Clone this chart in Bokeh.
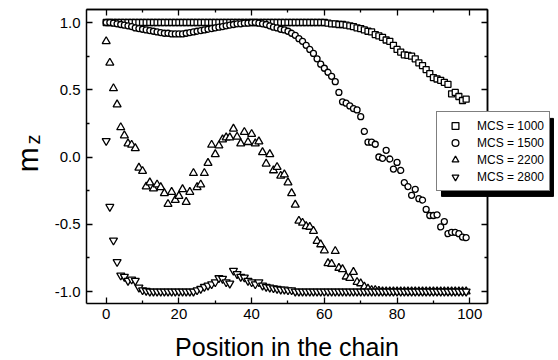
from bokeh.plotting import figure
from bokeh.models import (Range1d, LinearAxis, FixedTicker, Legend, LegendItem,
                          Label, BoxAnnotation)
from bokeh.embed import file_html
from bokeh.resources import INLINE
from math import pi

positions = list(range(100))

mcs1000 = [
    1.0, 1.0, 1.0, 1.0, 1.0, 1.0, 1.0, 1.0, 1.0, 1.0,
    1.0, 1.0, 1.0, 1.0, 1.0, 1.0, 1.0, 1.0, 1.0, 1.0,
    1.0, 1.0, 1.0, 1.0, 1.0, 1.0, 1.0, 1.0, 1.0, 1.0,
    1.0, 1.0, 1.0, 1.0, 1.0, 1.0, 1.0, 1.0, 1.0, 1.0,
    1.0, 1.0, 1.0, 1.0, 1.0, 1.0, 1.0, 1.0, 1.0, 1.0,
    1.0, 1.0, 1.0, 1.0, 1.0, 1.0, 1.0, 1.0, 1.0, 1.0,
    1.0, 0.995, 0.99, 0.99, 0.985, 0.985, 0.98, 0.975, 0.97, 0.96,
    0.955, 0.945, 0.935, 0.93, 0.91, 0.90, 0.89, 0.87, 0.86, 0.83,
    0.80, 0.78, 0.76, 0.755, 0.75, 0.73, 0.70, 0.68, 0.65, 0.62,
    0.59, 0.58, 0.57, 0.555, 0.54, 0.47, 0.48, 0.45, 0.42, 0.43,
]

mcs1500 = [
    1.0, 1.0, 0.995, 0.99, 0.985, 0.98, 0.975, 0.97, 0.96, 0.955,
    0.95, 0.945, 0.94, 0.935, 0.93, 0.925, 0.92, 0.92, 0.915, 0.915,
    0.915, 0.915, 0.92, 0.925, 0.93, 0.935, 0.94, 0.945, 0.95, 0.955,
    0.96, 0.965, 0.97, 0.975, 0.98, 0.985, 0.99, 0.99, 0.995, 0.995,
    1.0, 1.0, 0.995, 0.99, 0.985, 0.975, 0.965, 0.96, 0.95, 0.945,
    0.935, 0.92, 0.905, 0.88, 0.86, 0.83, 0.80, 0.77, 0.73, 0.69,
    0.66, 0.63, 0.60, 0.56, 0.48, 0.41, 0.40, 0.38, 0.36, 0.35,
    0.30, 0.19, 0.11, 0.11, 0.095, 0.0, -0.01, 0.05, -0.015, -0.09,
    -0.04, -0.10, -0.19, -0.22, -0.285, -0.24, -0.31, -0.32, -0.39, -0.435,
    -0.435, -0.43, -0.52, -0.48, -0.57, -0.56, -0.56, -0.57, -0.595, -0.60,
]

mcs2200 = [
    0.86, 0.70, 0.51, 0.39, 0.22, 0.16, 0.10, 0.09, 0.065, -0.08,
    -0.105, -0.22, -0.19, -0.235, -0.205, -0.225, -0.27, -0.35, -0.26, -0.32,
    -0.29, -0.24, -0.335, -0.26, -0.12, -0.225, -0.205, -0.12, -0.045, 0.09,
    0.02, 0.085, 0.13, 0.145, 0.145, 0.21, 0.15, 0.10, 0.185, 0.11,
    0.17, 0.10, 0.115, 0.035, -0.05, 0.02, -0.10, -0.075, -0.14, -0.13,
    -0.19, -0.27, -0.355, -0.475, -0.49, -0.515, -0.52, -0.55, -0.625, -0.65,
    -0.695, -0.79, -0.795, -0.70, -0.825, -0.835, -0.89, -0.90, -0.855, -0.93,
    -0.94, -0.965, -0.98, -0.99, -0.99, -0.995, -1.0, -1.0, -1.0, -1.0,
    -1.0, -1.0, -1.0, -1.0, -1.0, -1.0, -1.0, -1.0, -1.0, -1.0,
    -1.0, -1.0, -1.0, -1.0, -1.0, -1.0, -1.0, -1.0, -1.0, -1.0,
]

mcs2800 = [
    0.12, -0.37, -0.62, -0.78, -0.88, -0.89, -0.92, -0.91, -0.92, -0.97,
    -0.99, -0.995, -1.0, -1.0, -1.0, -1.0, -1.0, -1.0, -1.0, -1.0,
    -1.0, -1.0, -1.0, -1.0, -1.0, -0.99, -0.98, -0.965, -0.955, -0.945,
    -0.93, -0.90, -0.905, -0.93, -0.94, -0.845, -0.87, -0.89, -0.895, -0.92,
    -0.93, -0.945, -0.93, -0.955, -0.965, -0.97, -0.975, -0.98, -0.985, -0.985,
    -0.99, -0.99, -1.0, -1.0, -1.0, -1.0, -1.0, -1.0, -1.0, -1.0,
    -1.0, -1.0, -1.0, -1.0, -1.0, -1.0, -1.0, -1.0, -1.0, -1.0,
    -1.0, -1.0, -1.0, -1.0, -1.0, -1.0, -1.0, -1.0, -1.0, -1.0,
    -1.0, -1.0, -1.0, -1.0, -1.0, -1.0, -1.0, -1.0, -1.0, -1.0,
    -1.0, -1.0, -1.0, -1.0, -1.0, -1.0, -1.0, -1.0, -1.0, -1.0,
]

series_labels = ["MCS = 1000", "MCS = 1500", "MCS = 2200", "MCS = 2800"]
x_ticks = [0, 20, 40, 60, 80, 100]
x_minor = [10, 30, 50, 70, 90]
y_ticks = [-1.0, -0.5, 0.0, 0.5, 1.0]
y_minor = [-0.75, -0.25, 0.25, 0.75]
y_tick_labels = {-1.0: "-1.0", -0.5: "-0.5", 0.0: "0.0", 0.5: "0.5", 1.0: "1.0"}
x_title = "Position in the chain"

# visible axes box (data units)
X0, X1 = -5.42, 104.87
Y0, Y1 = -1.089, 1.097

FONT = "Liberation Sans"

p = figure(width=558, height=360, output_backend="svg", toolbar_location=None,
           x_range=Range1d(-29.07, 124.40), y_range=Range1d(-1.513, 1.1636),
           min_border_left=0, min_border_right=0, min_border_top=0,
           min_border_bottom=0, x_axis_location=None, y_axis_location=None)
p.grid.visible = False
p.background_fill_color = "white"
p.border_fill_color = "white"
p.outline_line_color = None


def base_axis(ax, bounds):
    ax.bounds = bounds
    ax.axis_line_color = "black"
    ax.axis_line_width = 1.5
    ax.major_tick_line_color = "black"
    ax.major_tick_line_width = 1.3
    ax.minor_tick_line_color = "black"
    ax.minor_tick_line_width = 1.3
    ax.major_tick_in = 6
    ax.major_tick_out = 0
    ax.minor_tick_in = 3
    ax.minor_tick_out = 0


def label_axis(ax):
    ax.major_label_text_font = FONT
    ax.major_label_text_font_size = "15px"
    ax.major_label_text_color = "black"


# bottom axis, fixed at the box edge
xb = LinearAxis(ticker=FixedTicker(ticks=x_ticks, minor_ticks=x_minor),
                fixed_location=Y0)
base_axis(xb, (X0, X1))
label_axis(xb)
xb.major_label_standoff = 6
p.add_layout(xb, "below")

# left axis, fixed at the box edge
yl = LinearAxis(ticker=FixedTicker(ticks=y_ticks, minor_ticks=y_minor),
                fixed_location=X0)
base_axis(yl, (Y0, Y1))
label_axis(yl)
yl.major_label_standoff = 6
yl.major_label_overrides = y_tick_labels
p.add_layout(yl, "left")

# mirrored top / right axes: ticks only (long and short marks)
for ticks, length in ((x_ticks, 6), (x_minor, 3)):
    ax = LinearAxis(ticker=FixedTicker(ticks=[], minor_ticks=ticks), fixed_location=Y1)
    base_axis(ax, (X0, X1))
    ax.minor_tick_in = length
    p.add_layout(ax, "above")
for ticks, length in ((y_ticks, 6), (y_minor, 3)):
    ax = LinearAxis(ticker=FixedTicker(ticks=[], minor_ticks=ticks), fixed_location=X1)
    base_axis(ax, (Y0, Y1))
    ax.minor_tick_in = length
    p.add_layout(ax, "right")

# x-axis title
p.add_layout(Label(x=(X0 + X1) / 2, y=-1.409, text=x_title, text_align="center",
                   text_baseline="alphabetic", text_font=FONT, text_font_size="25px",
                   text_color="black"))

# y-axis title "m" with subscript "z"
p.add_layout(Label(x=-21.65, y=-0.02, text="m", angle=pi / 2, text_align="center",
                   text_baseline="middle", text_font=FONT, text_font_size="30px",
                   text_color="black"))
p.add_layout(Label(x=-20.0, y=0.13, text="z", angle=pi / 2, text_align="center",
                   text_baseline="middle", text_font=FONT, text_font_size="20px",
                   text_color="black"))

common = dict(fill_color="white", line_color="black", line_width=1.3)
r1 = p.scatter(positions, mcs1000, marker="square", size=6, **common)
r2 = p.scatter(positions, mcs1500, marker="circle", size=6, **common)
r3 = p.scatter(positions, mcs2200, marker="triangle", size=8, **common)
r4 = p.scatter(positions, mcs2800, marker="inverted_triangle", size=8, **common)

# legend drop shadow
p.add_layout(BoxAnnotation(left=92.22, right=123.02, top=0.287, bottom=-0.293,
                           fill_color="black", fill_alpha=1.0, line_color="black",
                           line_alpha=1.0, level="annotation"))

legend = Legend(items=[LegendItem(label=series_labels[0], renderers=[r1]),
                       LegendItem(label=series_labels[1], renderers=[r2]),
                       LegendItem(label=series_labels[2], renderers=[r3]),
                       LegendItem(label=series_labels[3], renderers=[r4])],
                location=(436, 169), padding=5, spacing=0, margin=0,
                glyph_width=26, glyph_height=17, label_height=17, label_standoff=9,
                label_text_font=FONT, label_text_font_size="12px",
                label_text_color="black", border_line_color="black",
                border_line_width=1.2, background_fill_color="white",
                background_fill_alpha=1.0)
p.add_layout(legend, "center")

open("out.html", "w").write(file_html(p, INLINE))
